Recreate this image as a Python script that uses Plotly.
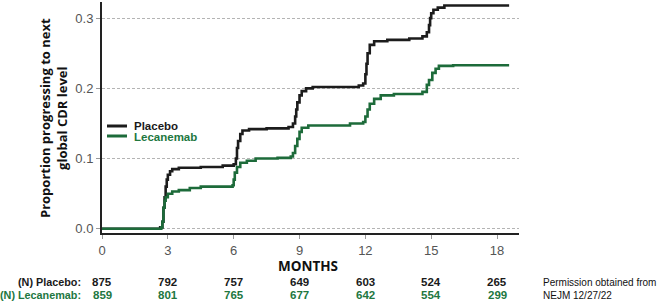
import plotly.graph_objects as go

months_placebo = [0, 2.65, 2.75, 2.8, 2.85, 2.9, 2.95, 3.0, 3.1, 3.2, 3.5, 4.5, 5.5, 6.0, 6.1, 6.15, 6.2, 6.3, 6.4,
                  6.7, 7.5, 8.5, 8.7, 8.8, 8.85, 8.9, 9.0, 9.1, 9.3, 9.6, 11.7, 11.9, 12.0, 12.05, 12.1, 12.2, 12.4,
                  13.0, 14.0, 14.6, 14.8, 14.9, 14.95, 15.0, 15.1, 15.3, 15.6, 18.55]
prop_placebo = [0, 0.002, 0.01, 0.03, 0.045, 0.06, 0.07, 0.077, 0.082, 0.085, 0.087, 0.088, 0.09, 0.092, 0.1, 0.115,
                0.125, 0.135, 0.14, 0.142, 0.143, 0.145, 0.15, 0.16, 0.17, 0.18, 0.19, 0.196, 0.2, 0.202, 0.204,
                0.207, 0.22, 0.235, 0.25, 0.262, 0.267, 0.269, 0.271, 0.274, 0.28, 0.29, 0.3, 0.307, 0.312, 0.315,
                0.318, 0.318]

months_lecanemab = [0, 2.7, 2.75, 2.8, 2.85, 2.9, 3.0, 3.2, 3.5, 4.0, 4.5, 5.95, 6.0, 6.05, 6.15, 6.3, 6.6, 7.0, 8.0,
                    8.6, 8.7, 8.8, 8.9, 9.0, 9.1, 9.4, 11.3, 11.9, 12.0, 12.1, 12.2, 12.4, 12.7, 13.3, 14.6, 14.8,
                    14.9, 15.05, 15.2, 15.35, 16.0, 18.55]
prop_lecanemab = [0, 0.002, 0.01, 0.03, 0.04, 0.045, 0.05, 0.053, 0.055, 0.058, 0.06, 0.062, 0.07, 0.08, 0.088,
                  0.094, 0.097, 0.1, 0.101, 0.103, 0.108, 0.118, 0.128, 0.138, 0.144, 0.147, 0.15, 0.152, 0.16, 0.17,
                  0.178, 0.185, 0.19, 0.192, 0.195, 0.205, 0.212, 0.222, 0.228, 0.232, 0.233, 0.233]

risk_months = [0, 3, 6, 9, 12, 15, 18]
n_placebo = [875, 792, 757, 649, 603, 524, 265]
n_lecanemab = [859, 801, 765, 677, 642, 554, 299]

x_ticks = [0, 3, 6, 9, 12, 15, 18]
y_ticks = [0.0, 0.1, 0.2, 0.3]
y_tick_labels = ["0.0", "0.1", "0.2", "0.3"]

BLACK = "#1c1c1c"
GREEN = "#1d6b3a"
GREEN_TXT = "#22773f"

W, H = 662, 302
L, R, T, B = 102, 143, 2, 69
ph = H - T - B
pw = W - L - R


def py(pix):
    return (H - B - pix) / ph


def px(pix):
    return (pix - L) / pw


fig = go.Figure()
fig.add_trace(go.Scatter(x=months_placebo, y=prop_placebo, mode="lines",
                         line=dict(color=BLACK, width=2.6, shape="hv"), name="Placebo", showlegend=False))
fig.add_trace(go.Scatter(x=months_lecanemab, y=prop_lecanemab, mode="lines",
                         line=dict(color=GREEN, width=2.6, shape="hv"), name="Lecanemab", showlegend=False))

fig.update_layout(
    width=W, height=H,
    margin=dict(l=L, r=R, t=T, b=B),
    paper_bgcolor="white", plot_bgcolor="white",
    font=dict(family="Liberation Sans", size=12, color="#555555"),
    xaxis=dict(range=[0, 19], tickvals=x_ticks, ticktext=[str(v) for v in x_ticks], showgrid=False,
               zeroline=False, showline=True, linecolor="#222222", linewidth=2, ticks="outside", ticklen=4,
               tickcolor="#999999", tickfont=dict(size=13, color="#555555")),
    yaxis=dict(range=[-0.006, 0.323], tickvals=y_ticks, ticktext=y_tick_labels, showgrid=True,
               gridcolor="#b4b4b4", griddash="3px,2px", gridwidth=1, zeroline=False, showline=True,
               linecolor="#222222", linewidth=2, ticks="outside", ticklen=4, tickcolor="#999999",
               tickfont=dict(size=13, color="#555555")),
)

# risk table numbers, placed at the data x of each month
for m, n in zip(risk_months, n_placebo):
    fig.add_annotation(x=m, xref="x", y=py(282), yref="paper", text=f"<b>{n}</b>",
                       showarrow=False, font=dict(family="Liberation Sans", size=11.5, color="#1a1a1a"),
                       xanchor="center", yanchor="middle")
for m, n in zip(risk_months, n_lecanemab):
    fig.add_annotation(x=m, xref="x", y=py(294.5), yref="paper", text=f"<b>{n}</b>",
                       showarrow=False, font=dict(family="Liberation Sans", size=11.5, color=GREEN_TXT),
                       xanchor="center", yanchor="middle")

fig.add_annotation(x=px(83), y=py(282), xref="paper", yref="paper", text="<b>(N) Placebo:</b>", showarrow=False,
                   xanchor="right", yanchor="middle", font=dict(family="Liberation Sans", size=10.8, color="#1a1a1a"))
fig.add_annotation(x=px(83), y=py(294.5), xref="paper", yref="paper", text="<b>(N) Lecanemab:</b>", showarrow=False,
                   xanchor="right", yanchor="middle", font=dict(family="Liberation Sans", size=10.8, color=GREEN_TXT))

fig.add_annotation(x=px(308), y=py(266), xref="paper", yref="paper", text="<b>MONTHS</b>", showarrow=False,
                   xanchor="center", yanchor="middle", font=dict(family="Open Sans", size=13.5, color="#111111"))

fig.add_annotation(x=px(53), y=py(118), xref="paper", yref="paper",
                   text="<b>Proportion progressing to next<br>global CDR level</b>", showarrow=False, textangle=-90,
                   xanchor="center", yanchor="middle",
                   font=dict(family="Open Sans", size=13, color="#111111"))

fig.add_annotation(x=px(541), y=py(288.5), xref="paper", yref="paper",
                   text="Permission obtained from<br>NEJM 12/27/22", showarrow=False, align="left",
                   xanchor="left", yanchor="middle", font=dict(family="Liberation Sans", size=10, color="#111111"))

# legend
fig.add_shape(type="line", xref="paper", yref="paper", x0=px(107), x1=px(127), y0=py(126), y1=py(126),
              line=dict(color=BLACK, width=3))
fig.add_shape(type="line", xref="paper", yref="paper", x0=px(107), x1=px(127), y0=py(136), y1=py(136),
              line=dict(color=GREEN, width=3))
fig.add_annotation(x=px(132), y=py(126), xref="paper", yref="paper", text="<b>Placebo</b>", showarrow=False,
                   xanchor="left", yanchor="middle", font=dict(family="Liberation Sans", size=11.5, color="#1a1a1a"))
fig.add_annotation(x=px(132), y=py(136.5), xref="paper", yref="paper", text="<b>Lecanemab</b>", showarrow=False,
                   xanchor="left", yanchor="middle", font=dict(family="Liberation Sans", size=11.5, color=GREEN_TXT))

fig.write_html("out.html", config={"displayModeBar": False},
               post_script="document.body.style.margin='0';document.body.style.overflow='hidden';")
